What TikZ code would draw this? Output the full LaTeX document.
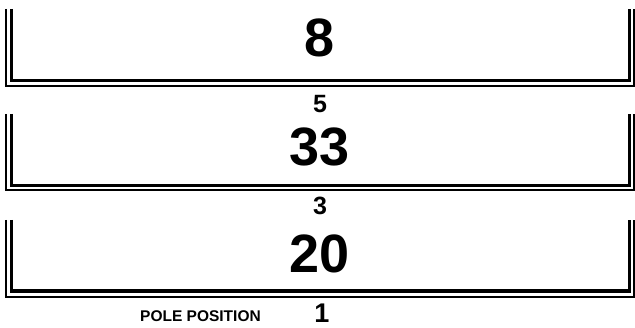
\documentclass[tikz,border=0pt]{standalone}
\usepackage{fontspec}
\setmainfont{Liberation Sans}
\usetikzlibrary{positioning}

\begin{document}
\begin{tikzpicture}[x=1pt,y=1pt,font=\bfseries,
  outerrule/.style={line width=2pt},
  innerrule/.style={line width=3.5pt},
  bignum/.style={anchor=base,inner sep=0pt,font=\fontsize{54}{54}\bfseries\selectfont},
  smallnum/.style={anchor=base,inner sep=0pt,font=\fontsize{25}{25}\bfseries\selectfont}]
\useasboundingbox (0,0) rectangle (635,327);
% top tier
\draw[outerrule] (5.5,318) -- (5.5,241) -- (634,241) -- (634,318);
\draw[innerrule] (11.5,318) -- (11.5,246.5) -- (629.5,246.5) -- (629.5,318);
\node[bignum] (first) at (320,270) {8};
% middle tier
\node[smallnum] (secondpos) at (320,214) {5};
\draw[outerrule] (5.5,213) -- (5.5,137) -- (634,137) -- (634,213);
\draw[innerrule] (11.5,213) -- (11.5,141.5) -- (629.5,141.5) -- (629.5,213);
\node[bignum] (second) at (320,161) {33};
% bottom tier
\node[smallnum] (thirdpos) at (320,112) {3};
\draw[outerrule] (5.5,107) -- (5.5,30) -- (634,30) -- (634,107);
\draw[innerrule] (11.5,107) -- (11.5,36) -- (629.5,36) -- (629.5,107);
\node[bignum] (third) at (320,54) {20};
% caption
\node[anchor=base west,inner sep=0pt,font=\fontsize{15.5}{15.5}\bfseries\selectfont] (pole) at (140,6) {POLE POSITION};
\node[smallnum,font=\fontsize{27}{27}\bfseries\selectfont] (polepos) at (322,5) {1};
\end{tikzpicture}
\end{document}
